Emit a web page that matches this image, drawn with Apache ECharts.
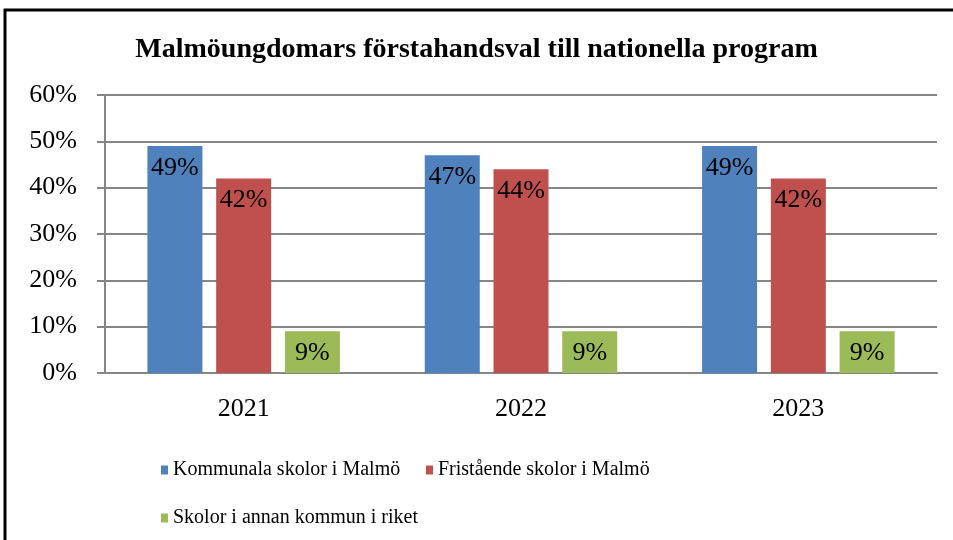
<!DOCTYPE html>
<html lang="sv">
<head>
    <meta charset="UTF-8">
    <title>Malmöungdomars förstahandsval</title>
    <script type="text/javascript" src="https://cdn.jsdelivr.net/npm/echarts@6/dist/echarts.min.js"></script>
    <style>
        html, body { margin: 0; padding: 0; background: #fff; }
    </style>
</head>
<body>
    <div id="chart" style="width:953px;height:540px;"></div>
<script>
// data
var years = ['2021', '2022', '2023'];
var kommunala = [49, 47, 49];
var fristaende = [42, 44, 42];
var annanKommun = [9, 9, 9];
var seriesNames = ['Kommunala skolor i Malmö', 'Fristående skolor i Malmö', 'Skolor i annan kommun i riket'];
var colors = ['#4F81BD', '#C0504D', '#9BBB59'];

var serif = '"Liberation Serif", "DejaVu Serif", serif';

var myChart = echarts.init(document.getElementById('chart'));

// one legend per entry so they wrap like the original (2 + 1)
function legendItem(name, left, top) {
    return {
        data: [name],
        left: left,
        top: top,
        icon: 'rect',
        itemWidth: 7,
        itemHeight: 9,
        selectedMode: false,
        textStyle: { fontFamily: serif, fontSize: 20, color: '#000' }
    };
}

var option = {
    backgroundColor: '#fff',
    color: colors,
    title: {
        text: 'Malmöungdomars förstahandsval till nationella program',
        left: 'center',
        top: 31,
        textStyle: { fontFamily: serif, fontSize: 28, fontWeight: 'bold', color: '#000' }
    },
    graphic: [{
        type: 'rect',
        shape: { x: 5, y: 10, width: 1000, height: 600 },
        style: { fill: 'none', stroke: '#000', lineWidth: 3 },
        silent: true
    }],
    legend: [
        legendItem(seriesNames[0], 156, 455),
        legendItem(seriesNames[1], 421, 455),
        legendItem(seriesNames[2], 156, 503)
    ],
    grid: { left: 105, right: 16, top: 95, bottom: 167 },
    xAxis: {
        type: 'category',
        data: years,
        axisLine: { lineStyle: { color: '#868686', width: 2 } },
        axisTick: { show: false },
        axisLabel: { fontFamily: serif, fontSize: 26, color: '#000', margin: 23 }
    },
    yAxis: {
        type: 'value',
        min: 0,
        max: 60,
        interval: 10,
        axisLine: { show: true, lineStyle: { color: '#868686', width: 2 } },
        axisTick: { show: true, length: 8, lineStyle: { color: '#868686', width: 2 } },
        splitLine: { lineStyle: { color: '#868686', width: 2 } },
        axisLabel: { fontFamily: serif, fontSize: 26, color: '#000', margin: 28, formatter: '{value}%' }
    },
    series: [kommunala, fristaende, annanKommun].map(function (d, i) {
        return {
            name: seriesNames[i],
            type: 'bar',
            data: d,
            barWidth: 55,
            barGap: '25%',
            itemStyle: { color: colors[i] },
            label: {
                show: true,
                position: 'insideTop',
                distance: 9,
                formatter: '{c}%',
                fontFamily: serif,
                fontSize: 26,
                color: '#000'
            }
        };
    })
};

myChart.setOption(option);
</script>
</body>
</html>
